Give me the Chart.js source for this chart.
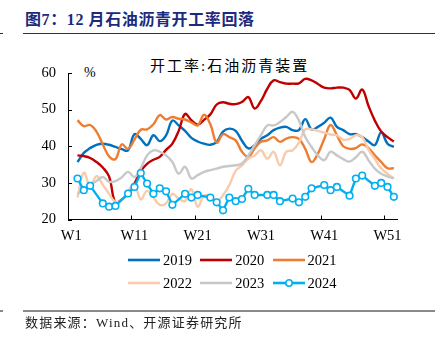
<!DOCTYPE html>
<html lang="zh-CN">
  <head>
    <meta charset="UTF-8" />
    <title>开工率:石油沥青装置</title>
    <script src="https://cdn.jsdelivr.net/npm/chart.js@4.4.1/dist/chart.umd.min.js"></script>
    <style>
      body { margin: 0; background: #fff; }
      .page {
        position: relative; width: 438px; height: 348px; overflow: hidden;
        font-family: "Liberation Serif", "Noto Sans CJK SC", serif; color: #000;
      }
      .page canvas { position: absolute; left: 0; top: 0; }
      .title {
        position: absolute; left: 25px; top: 11px; font-size: 16px; line-height: 18px;
        font-weight: bold; color: #1c2a7d; letter-spacing: 0.6px; white-space: pre;
      }
      .rule { position: absolute; height: 1px; background: #333; }
      .rule.bottom { height: 1.5px; background: #8a8a8a; }
      .chart-title {
        position: absolute; left: 150px; top: 57px; font-size: 15px; line-height: 18px;
        letter-spacing: 2px; white-space: nowrap;
      }
      .unit { position: absolute; left: 84px; top: 65px; font-size: 14px; }
      .legend-item {
        position: absolute; display: flex; align-items: center;
        font-size: 14.5px; line-height: 16px;
      }
      .legend-item svg { margin-right: 3px; }
      .source {
        position: absolute; left: 25px; top: 315px; font-size: 13px; line-height: 16px;
        letter-spacing: 1.2px; color: #222; white-space: nowrap;
      }
    </style>
  </head>
  <body>
    <div class="page" id="page">
      <div class="title">图7：12 月石油沥青开工率回落</div>
      <div class="rule" style="left: 0; top: 33px; width: 3px"></div>
      <div class="rule" style="left: 23px; top: 33px; width: 412px"></div>
      <div class="chart-title">开工率:石油沥青装置</div>
      <div class="unit">%</div>
      <canvas id="chart" width="438" height="348"></canvas>
      <div class="rule bottom" style="left: 0; top: 310px; width: 3px"></div>
      <div class="rule bottom" style="left: 23px; top: 310px; width: 412px"></div>
      <div class="source">数据来源：Wind、开源证券研究所</div>
    </div>

    <script>
      // 周度类目
      const weeks = [
        "W1", "W2", "W3", "W4", "W5", "W6", "W7", "W8", "W9", "W10",
        "W11", "W12", "W13", "W14", "W15", "W16", "W17", "W18", "W19", "W20",
        "W21", "W22", "W23", "W24", "W25", "W26", "W27", "W28", "W29", "W30",
        "W31", "W32", "W33", "W34", "W35", "W36", "W37", "W38", "W39", "W40",
        "W41", "W42", "W43", "W44", "W45", "W46", "W47", "W48", "W49", "W50",
        "W51", "W52",
      ];
      const xTickLabels = ["W1", "W11", "W21", "W31", "W41", "W51"];
      const yTicks = [20, 30, 40, 50, 60];

      const years = ["2019", "2020", "2021", "2022", "2023", "2024"];
      const colors = ["#0070c0", "#c00000", "#ed7d31", "#f8cbad", "#c8c8c8", "#00b0f0"];

      // 开工率 %
      const y2019 = [null, 35.7, 38.2, 39.5, 40.4, 40.7, 40.4, 39.8, 39.2, 38.9, 43.3, 42, 40.3, 43, 41.4, 43, 47, 45.7, 44.2, 42.3, 41.3, 40.7, 40.4, 41.2, 44, 44.8, 44.2, 41.5, 39.4, 40.3, 42, 43, 44.4, 45.1, 45.3, 44.4, 44.4, 47.4, 44.6, 45.3, 46.4, 47.8, 45.3, 44.4, 43.3, 43.3, 42.5, 41.3, 40.3, 43.8, 40.7, 39.8];
      const y2020 = [null, 37.5, 37.3, 36.8, 35.7, 34.2, 31.7, 24.5, 25.5, 27, 29.8, 33.2, 35.2, 36.3, 37.1, 39, 40.7, 44.2, 48.8, 47.1, 45.9, 47.2, 48.7, 51.4, 52, 51.6, 51.5, 52.1, 53.4, 50.3, 52.4, 55.7, 58, 57.5, 57.1, 57.1, 57.2, 58.4, 58, 57, 56, 55.8, 56, 56, 55.4, 53, 55.5, 51, 47, 44, 42.5, 41.3];
      const y2021 = [null, 47.1, 45.5, 45.8, 44, 40.5, 37.2, 36.5, 40.5, 39.3, 41.8, 44.5, 44.6, 46, 48.5, 47.3, 48, 47.5, 47.3, 46.5, 45.7, 48.6, 46, 41, 43.3, 42.5, 41.6, 38.5, 37.1, 39.4, 41.2, 41.6, 42.5, 41.2, 42.1, 42.5, 42, 39.3, 35.7, 38, 42, 45.8, 43, 40, 39.3, 39.5, 40.5, 39.5, 37.5, 35.7, 34, 34];
      const y2022 = [null, 26, 32.8, 29.2, 31.8, 29.5, 27, 24.8, 25.3, 27.8, 29.5, 25.5, 27.8, 26, 24, 24.4, 27, 25.7, 25, 28.3, 23.5, 26.5, 26.2, 25, 26.6, 29.4, 33.3, 34.8, 36.6, 37.5, 38.9, 36.6, 38.5, 34.8, 38.5, 38.9, 41, 44.6, 44.6, 44.2, 43.7, 43.2, 43, 41.8, 42, 43, 42.5, 39, 36.5, 34, 32.5, 31.2];
      const y2023 = [null, 27.1, 28, 29.4, 30.5, 31.6, 30.3, 30.5, 31.5, 33, 31.6, 34, 37.5, 38.9, 38.5, 37.5, 35.7, 32.5, 34.4, 31.2, 32.1, 33, 33.5, 33.9, 34.4, 34.6, 34.8, 35.3, 37.5, 40.3, 43, 45.7, 45.7, 46.6, 48, 49.4, 47, 42.5, 39.8, 37.5, 36.2, 38.5, 37.5, 36.5, 35.8, 37, 38.5, 36.2, 33.9, 32.5, 31.8, 31.2];
      const y2024 = [null, 31.2, 28, 29.2, null, 24.4, 23.5, 23.7, null, 27.1, 28.9, 32.7, 29.8, 27, 28.5, 27.7, 24, null, 27, 26, 26.7, null, 26, 24.7, 22.5, 26, 25, 25.6, 28.4, 26.7, null, 26.7, 26.7, 25, null, 25.7, 24.7, 26.2, 28.5, null, 29.4, 28, 28.9, null, 26.5, 31.2, 32, null, 29.2, 30, 28.9, 26.2];

      const series = [y2019, y2020, y2021, y2022, y2023, y2024];

      // 刻度线朝内
      const innerTicks = {
        id: "innerTicks",
        afterDraw(chart) {
          const { ctx, chartArea, scales } = chart;
          ctx.save();
          ctx.strokeStyle = "#000";
          ctx.lineWidth = 1;
          ctx.beginPath();
          yTicks.forEach((v) => {
            const y = Math.round(scales.y.getPixelForValue(v)) + 0.5;
            ctx.moveTo(chartArea.left, y);
            ctx.lineTo(chartArea.left + 4, y);
          });
          xTickLabels.slice(1).forEach((w) => {
            const x = Math.round(scales.x.getPixelForValue(weeks.indexOf(w) - 0.5)) + 0.5;
            ctx.moveTo(x, chartArea.bottom);
            ctx.lineTo(x, chartArea.bottom - 4);
          });
          ctx.stroke();
          ctx.restore();
        },
      };

      const tickFont = { family: "Liberation Serif", size: 14.5 };

      new Chart(document.getElementById("chart"), {
        type: "line",
        data: {
          labels: weeks,
          datasets: series.map((data, i) => {
            const isDots = i === series.length - 1;
            return {
              label: years[i],
              data: data,
              borderColor: colors[i],
              borderWidth: 2.4,
              tension: isDots ? 0 : 0.4,
              spanGaps: isDots,
              pointRadius: isDots ? 3.3 : 0,
              pointBackgroundColor: "#fff",
              pointBorderColor: colors[i],
              pointBorderWidth: 1.6,
              order: series.length - i,
            };
          }),
        },
        options: {
          responsive: false,
          animation: false,
          devicePixelRatio: 1,
          layout: { padding: { left: 0, top: 73, right: 41, bottom: 98.5 } },
          plugins: { legend: { display: false }, tooltip: { enabled: false } },
          scales: {
            x: {
              type: "category",
              offset: true,
              grid: { display: false, drawTicks: false, offset: true },
              border: { display: true, color: "#000", width: 1 },
              ticks: {
                autoSkip: false,
                maxRotation: 0,
                padding: 8,
                color: "#000",
                font: tickFont,
                callback: function (value) {
                  const lab = weeks[value];
                  return xTickLabels.includes(lab) ? lab : "";
                },
              },
              afterFit: (scale) => { scale.height = 30; },
            },
            y: {
              min: 20,
              max: 60,
              grid: { display: false, drawTicks: false },
              border: { display: true, color: "#000", width: 1 },
              ticks: { stepSize: 10, padding: 12, color: "#000", font: tickFont },
              afterFit: (scale) => { scale.width = 68; },
            },
          },
        },
        plugins: [innerTicks],
      });

      // 图例
      const page = document.getElementById("page");
      years.forEach((yr, i) => {
        const item = document.createElement("div");
        item.className = "legend-item";
        item.style.left = 128 + (i % 3) * 72.3 + "px";
        item.style.top = (i < 3 ? 252 : 275) + "px";
        const marker = i === years.length - 1
          ? '<circle cx="16" cy="4" r="3.2" fill="#fff" stroke="' + colors[i] + '" stroke-width="1.6"/>'
          : "";
        item.innerHTML =
          '<svg width="32" height="8"><line x1="0" y1="4" x2="32" y2="4" stroke="' +
          colors[i] + '" stroke-width="2.6"/>' + marker + "</svg><span>" + yr + "</span>";
        page.appendChild(item);
      });
    </script>
  </body>
</html>
